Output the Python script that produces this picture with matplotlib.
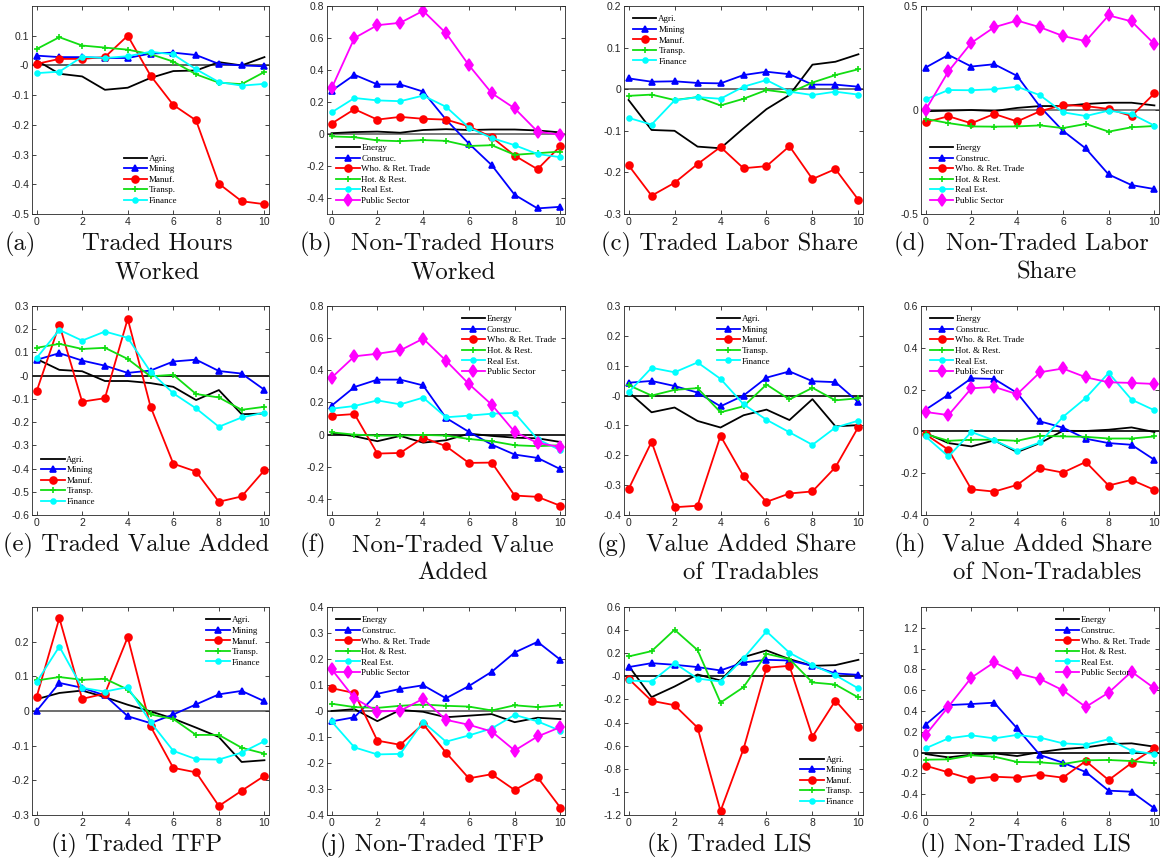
import matplotlib.pyplot as plt
from matplotlib.ticker import FuncFormatter
import numpy as np

plt.rcParams['font.family'] = 'Liberation Sans'

x = list(range(11))

traded_names = ['Agri.', 'Mining', 'Manuf.', 'Transp.', 'Finance']
nontraded_names = ['Energy', 'Construc.', 'Who. & Ret. Trade', 'Hot. & Rest.',
                   'Real Est.', 'Public Sector']

# (a) traded hours worked: agri, mining, manuf, transp, finance
hours_T = [
    [0.017, -0.028, -0.037, -0.082, -0.075, -0.042, -0.019, -0.017, 0.011, 0.0, 0.028],
    [0.033, 0.028, 0.028, 0.025, 0.025, 0.040, 0.043, 0.035, 0.005, 0.0, -0.003],
    [0.005, 0.022, 0.022, 0.028, 0.100, -0.034, -0.133, -0.185, -0.398, -0.457, -0.467],
    [0.055, 0.095, 0.067, 0.060, 0.053, 0.038, 0.013, -0.030, -0.058, -0.063, -0.022],
    [-0.026, -0.021, 0.029, 0.025, 0.031, 0.046, 0.037, -0.013, -0.056, -0.068, -0.062],
]
# (b) non-traded hours worked: energy, construc, who, hot, real est, public
hours_N = [
    [0.005, 0.012, 0.015, 0.008, 0.025, 0.030, 0.025, 0.028, 0.028, 0.022, 0.010],
    [0.27, 0.37, 0.31, 0.31, 0.265, 0.09, -0.06, -0.195, -0.38, -0.465, -0.455],
    [0.065, 0.155, 0.09, 0.107, 0.095, 0.09, 0.048, -0.02, -0.135, -0.22, -0.075],
    [-0.015, -0.02, -0.04, -0.045, -0.038, -0.043, -0.075, -0.07, -0.13, -0.12, -0.11],
    [0.135, 0.225, 0.21, 0.205, 0.24, 0.17, 0.04, -0.025, -0.07, -0.125, -0.145],
    [0.285, 0.60, 0.68, 0.695, 0.77, 0.63, 0.43, 0.255, 0.16, 0.015, -0.005],
]
# (c) traded labor share
lshare_T = [
    [-0.026, -0.098, -0.100, -0.138, -0.142, -0.094, -0.048, -0.014, 0.059, 0.066, 0.084],
    [0.026, 0.018, 0.019, 0.015, 0.014, 0.034, 0.042, 0.036, 0.011, 0.011, 0.006],
    [-0.183, -0.256, -0.225, -0.180, -0.139, -0.190, -0.185, -0.137, -0.216, -0.192, -0.266],
    [-0.016, -0.013, -0.026, -0.019, -0.039, -0.023, -0.002, -0.009, 0.016, 0.034, 0.048],
    [-0.069, -0.085, -0.027, -0.019, -0.023, 0.006, 0.022, -0.006, -0.014, -0.006, -0.013],
]
# (d) non-traded labor share
lshare_N = [
    [-0.006, -0.003, 0.0, -0.005, 0.010, 0.019, 0.019, 0.029, 0.035, 0.035, 0.022],
    [0.204, 0.265, 0.209, 0.220, 0.164, 0.016, -0.100, -0.185, -0.310, -0.361, -0.380],
    [-0.059, -0.030, -0.064, -0.019, -0.055, -0.006, 0.024, 0.019, 0.005, -0.029, 0.080],
    [-0.043, -0.063, -0.079, -0.080, -0.079, -0.074, -0.087, -0.067, -0.104, -0.083, -0.077],
    [0.051, 0.096, 0.095, 0.100, 0.112, 0.071, -0.011, -0.029, -0.003, -0.019, -0.075],
    [0.0, 0.186, 0.323, 0.398, 0.430, 0.398, 0.356, 0.331, 0.455, 0.426, 0.317],
]
# (e) traded value added
va_T = [
    [0.072, 0.025, 0.019, -0.023, -0.023, -0.032, -0.048, -0.105, -0.062, -0.166, -0.163],
    [0.068, 0.097, 0.065, 0.043, 0.012, 0.022, 0.061, 0.069, 0.020, 0.009, -0.061],
    [-0.068, 0.220, -0.112, -0.097, 0.245, -0.133, -0.379, -0.413, -0.543, -0.520, -0.407],
    [0.120, 0.137, 0.115, 0.120, 0.072, -0.003, 0.004, -0.079, -0.094, -0.147, -0.134],
    [0.076, 0.197, 0.151, 0.190, 0.163, 0.017, -0.076, -0.141, -0.220, -0.180, -0.159],
]
# (f) non-traded value added
va_N = [
    [0.010, -0.010, -0.041, -0.008, -0.050, -0.035, 0.006, -0.008, -0.019, -0.023, -0.046],
    [0.180, 0.296, 0.342, 0.342, 0.306, 0.104, 0.017, -0.062, -0.124, -0.145, -0.215],
    [0.118, 0.128, -0.118, -0.114, -0.019, -0.072, -0.176, -0.174, -0.379, -0.387, -0.443],
    [0.014, 0.0, -0.006, -0.006, -0.002, -0.006, -0.027, -0.041, -0.066, -0.072, -0.066],
    [0.161, 0.178, 0.213, 0.188, 0.230, 0.108, 0.118, 0.130, 0.135, -0.029, -0.097],
    [0.354, 0.487, 0.503, 0.524, 0.597, 0.460, 0.315, 0.186, 0.017, -0.052, -0.077],
]
# (g) value added share of tradables
vashare_T = [
    [0.012, -0.056, -0.040, -0.085, -0.107, -0.066, -0.047, -0.082, -0.012, -0.103, -0.099],
    [0.043, 0.049, 0.032, 0.010, -0.036, 0.0, 0.060, 0.081, 0.048, 0.045, -0.022],
    [-0.313, -0.155, -0.374, -0.369, -0.135, -0.270, -0.356, -0.328, -0.321, -0.240, -0.105],
    [0.035, 0.0, 0.019, 0.025, -0.056, -0.036, 0.037, -0.013, 0.026, -0.016, -0.009],
    [0.011, 0.093, 0.078, 0.111, 0.056, -0.029, -0.081, -0.123, -0.165, -0.107, -0.084],
]
# (h) value added share of non-tradables
vashare_N = [
    [-0.008, -0.056, -0.072, -0.043, -0.099, -0.056, 0.003, 0.002, 0.008, 0.019, -0.003],
    [0.104, 0.176, 0.254, 0.251, 0.184, 0.048, 0.018, -0.035, -0.056, -0.064, -0.136],
    [-0.014, -0.088, -0.277, -0.288, -0.256, -0.176, -0.197, -0.146, -0.259, -0.232, -0.280],
    [-0.013, -0.045, -0.040, -0.040, -0.045, -0.021, -0.024, -0.026, -0.034, -0.034, -0.024],
    [-0.024, -0.120, -0.003, -0.043, -0.093, -0.053, 0.069, 0.160, 0.280, 0.152, 0.101],
    [0.093, 0.078, 0.206, 0.213, 0.178, 0.283, 0.301, 0.259, 0.235, 0.232, 0.227],
]
# (i) traded TFP
tfp_T = [
    [0.034, 0.052, 0.059, 0.040, 0.018, -0.001, -0.022, -0.048, -0.075, -0.147, -0.142],
    [0.0, 0.081, 0.067, 0.045, -0.015, -0.035, -0.010, 0.019, 0.048, 0.058, 0.028],
    [0.040, 0.268, 0.035, 0.050, 0.213, -0.044, -0.164, -0.177, -0.274, -0.230, -0.187],
    [0.088, 0.098, 0.090, 0.093, 0.062, -0.010, -0.023, -0.069, -0.069, -0.106, -0.123],
    [0.083, 0.186, 0.067, 0.056, 0.069, -0.032, -0.115, -0.139, -0.140, -0.120, -0.087],
]
# (j) non-traded TFP
tfp_N = [
    [0.0, 0.007, -0.039, 0.004, -0.003, -0.024, -0.018, -0.012, -0.043, -0.026, -0.031],
    [-0.040, -0.024, 0.066, 0.085, 0.099, 0.049, 0.096, 0.151, 0.225, 0.266, 0.197],
    [0.088, 0.069, -0.114, -0.130, -0.050, -0.160, -0.259, -0.243, -0.304, -0.255, -0.372],
    [0.028, 0.015, 0.012, 0.020, 0.025, 0.020, 0.017, 0.002, 0.022, 0.015, 0.022],
    [-0.040, -0.140, -0.167, -0.165, -0.042, -0.118, -0.094, -0.067, -0.015, -0.040, -0.076],
    [0.161, 0.049, -0.002, 0.001, 0.047, -0.034, -0.053, -0.079, -0.152, -0.098, -0.062],
]
# (k) traded LIS
lis_T = [
    [0.091, -0.180, -0.088, 0.016, -0.036, 0.166, 0.224, 0.149, 0.091, 0.097, 0.143],
    [0.080, 0.114, 0.100, 0.080, 0.051, 0.120, 0.143, 0.137, 0.091, 0.025, 0.013],
    [-0.021, -0.212, -0.250, -0.444, -1.166, -0.629, 0.074, 0.091, -0.522, -0.210, -0.435],
    [0.172, 0.218, 0.403, 0.227, -0.227, -0.094, 0.195, 0.149, -0.053, -0.071, -0.183],
    [-0.036, -0.045, 0.114, -0.019, -0.045, 0.155, 0.389, 0.204, 0.097, 0.010, -0.105],
]
# (l) non-traded LIS
lis_N = [
    [-0.014, -0.046, -0.020, -0.007, -0.033, 0.005, 0.034, 0.050, 0.082, 0.089, 0.057],
    [0.268, 0.457, 0.467, 0.480, 0.233, -0.023, -0.097, -0.187, -0.366, -0.376, -0.536],
    [-0.126, -0.190, -0.254, -0.232, -0.241, -0.213, -0.241, -0.081, -0.264, -0.100, 0.041],
    [-0.068, -0.065, -0.026, -0.039, -0.090, -0.094, -0.110, -0.074, -0.071, -0.081, -0.103],
    [0.041, 0.137, 0.166, 0.137, 0.170, 0.144, 0.089, 0.077, 0.128, 0.018, -0.014],
    [0.170, 0.442, 0.721, 0.868, 0.762, 0.708, 0.599, 0.439, 0.577, 0.778, 0.618],
]

# line styles: color, marker, marker size
styles = [
    ('black', None, 0),
    ('#0000ff', '^', 5),
    ('#ff0000', 'o', 5),
    ('#11dd11', '+', 5),
    ('#00ffff', 'o', 3.5),
    ('#ff00ff', 'd', 6),
]

panels = [
    # data, traded?, ylim, yticks, legend loc, caption, zero-line color
    (hours_T, True, (-0.5, 0.2), np.arange(-0.5, 0.11, 0.1), 'lower center',
     ('(a)', 'Traded Hours', 'Worked'), '#444444'),
    (hours_N, False, (-0.5, 0.8), np.arange(-0.4, 0.81, 0.2), 'lower left',
     ('(b)', 'Non-Traded Hours', 'Worked'), '#666666'),
    (lshare_T, True, (-0.3, 0.2), np.arange(-0.3, 0.21, 0.1), 'upper left',
     ('(c)', 'Traded Labor Share'), '#555555'),
    (lshare_N, False, (-0.5, 0.5), [-0.5, 0, 0.5], 'lower left',
     ('(d)', 'Non-Traded Labor', 'Share'), '#666666'),
    (va_T, True, (-0.6, 0.3), np.arange(-0.6, 0.31, 0.1), 'lower left',
     ('(e)', 'Traded Value Added'), 'black'),
    (va_N, False, (-0.5, 0.8), np.arange(-0.4, 0.81, 0.2), 'upper right',
     ('(f)', 'Non-Traded Value', 'Added'), 'black'),
    (vashare_T, True, (-0.4, 0.3), np.arange(-0.4, 0.31, 0.1), 'upper center',
     ('(g)', 'Value Added Share', 'of Tradables'), 'black'),
    (vashare_N, False, (-0.4, 0.6), np.arange(-0.4, 0.61, 0.2), 'upper left',
     ('(h)', 'Value Added Share', 'of Non-Tradables'), 'black'),
    (tfp_T, True, (-0.3, 0.3), np.arange(-0.3, 0.21, 0.1), 'upper right',
     ('(i)', 'Traded TFP'), '#555555'),
    (tfp_N, False, (-0.4, 0.4), np.arange(-0.4, 0.41, 0.1), 'upper left',
     ('(j)', 'Non-Traded TFP'), '#555555'),
    (lis_T, True, (-1.2, 0.6), np.arange(-1.2, 0.61, 0.2), 'lower right',
     ('(k)', 'Traded LIS'), 'black'),
    (lis_N, False, (-0.6, 1.4), np.arange(-0.6, 1.21, 0.2), 'upper right',
     ('(l)', 'Non-Traded LIS'), 'black'),
]

W, H = 1166, 864
fig = plt.figure(figsize=(W / 100, H / 100), dpi=100)

col_l = [32, 327, 624, 921]
col_r = [269, 565, 863, 1159]
row_t = [6, 306, 607]
row_b = [214, 515, 815]

fmt = FuncFormatter(lambda v, p: '%g' % round(v, 6))
cap_font = dict(family='cmr10', fontsize=17.8, color='#111111', va='center')

for i, (data, traded, ylim, yticks, loc, cap, zc) in enumerate(panels):
    r, c = divmod(i, 4)
    ax = fig.add_axes([col_l[c] / W, 1 - row_b[r] / H,
                       (col_r[c] - col_l[c]) / W, (row_b[r] - row_t[r]) / H])
    names = traded_names if traded else nontraded_names
    ax.axhline(0, color=zc, lw=1.2, zorder=1)
    for k, y in enumerate(data):
        col, mk, ms = styles[k]
        ax.plot(x, y, color=col, marker=mk, ms=ms, mew=1.2, lw=1.3,
                label=names[k], zorder=2)
    ax.set_xlim(-0.2, 10.2)
    ax.set_ylim(*ylim)
    ax.set_xticks([0, 2, 4, 6, 8, 10])
    ax.set_yticks(yticks)
    ax.yaxis.set_major_formatter(fmt)
    ax.tick_params(direction='in', length=3, width=0.6, top=True, right=True,
                   labelsize=7.5, colors='#262626', pad=2)
    for s in ax.spines.values():
        s.set_linewidth(0.6)
        s.set_color('#262626')
    ax.legend(loc=loc, frameon=False, prop={'family': 'Liberation Serif', 'size': 6.5},
              handlelength=2.6, handletextpad=0.2, labelspacing=0.25,
              borderaxespad=0.6)

    # caption below the panel
    xl = col_l[c] / W
    xc = (col_l[c] + col_r[c]) / 2
    y1 = 1 - (row_b[r] + 30) / H
    if len(cap) == 3:
        fig.text(xl - 27 / W, y1, cap[0], ha='left', **cap_font)
        fig.text((xc + 7) / W, y1, cap[1], ha='center', **cap_font)
        fig.text((xc + 7) / W, 1 - (row_b[r] + 58) / H, cap[2], ha='center', **cap_font)
    else:
        fig.text((xc - 14) / W, y1, cap[0] + ' ' + cap[1], ha='center', **cap_font)

plt.savefig('out.png', dpi=100)
